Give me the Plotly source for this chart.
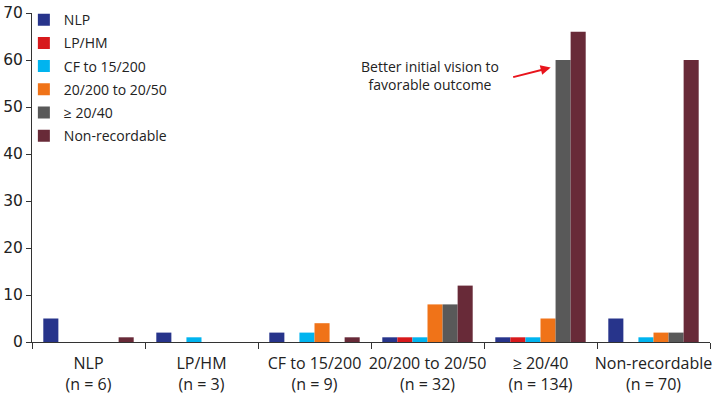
import plotly.graph_objects as go

categories = ["NLP<br>(n = 6)", "LP/HM<br>(n = 3)", "CF to 15/200<br>(n = 9)",
              "20/200 to 20/50<br>(n = 32)", "≥ 20/40<br>(n = 134)", "Non-recordable<br>(n = 70)"]

series_names = ["NLP", "LP/HM", "CF to 15/200", "20/200 to 20/50", "≥ 20/40", "Non-recordable"]

nlp_vals = [5, 2, 2, 1, 1, 5]
lphm_vals = [0, 0, 0, 1, 1, 0]
cf_vals = [0, 1, 2, 1, 1, 1]
mid_vals = [0, 0, 4, 8, 5, 2]
good_vals = [0, 0, 0, 8, 60, 2]
nonrec_vals = [1, 0, 1, 12, 66, 60]

series_values = [nlp_vals, lphm_vals, cf_vals, mid_vals, good_vals, nonrec_vals]
colors = ["#27348b", "#d7191c", "#00b4ef", "#f07318", "#595959", "#682a38"]

y_ticks = [0, 10, 20, 30, 40, 50, 60, 70]

fig = go.Figure()
for i, (name, vals, col) in enumerate(zip(series_names, series_values, colors)):
    fig.add_trace(go.Bar(x=categories, y=vals, name=name, marker_color=col,
                         marker_line_width=0, legendgroup=str(i)))

fig.update_layout(
    width=714, height=394,
    margin=dict(l=32, r=4, t=9, b=52),
    paper_bgcolor="white", plot_bgcolor="white",
    barmode="group", bargap=0.2, bargroupgap=0,
    font=dict(family="Open Sans", size=14, color="#222"),
    showlegend=True,
    legend=dict(x=-0.012, y=1.027, xanchor="left", yanchor="top",
                font=dict(family="Open Sans", size=14, color="#222"),
                tracegroupgap=2, traceorder="grouped", bgcolor="rgba(0,0,0,0)"),
    xaxis=dict(type="category", tickson="boundaries", ticks="outside", ticklen=6,
               tickcolor="#333", showline=True, linecolor="#333", linewidth=1,
               tickangle=0, automargin=False, ticklabelstandoff=7,
               tickfont=dict(family="Open Sans", size=16, color="#222"),
               showgrid=False),
    yaxis=dict(range=[0, 70], tickvals=y_ticks, ticks="outside", ticklen=5,
               tickcolor="#333", showline=True, linecolor="#333", linewidth=1,
               automargin=False,
               tickfont=dict(family="DejaVu Sans", size=15.5, color="#222"),
               showgrid=False, zeroline=False),
)

fig.add_annotation(x=3.02, y=56.8, xref="x", yref="y",
                   text="Better initial vision to<br>favorable outcome",
                   showarrow=False, font=dict(family="Open Sans", size=14, color="#222"),
                   align="center")
fig.add_annotation(x=4.09, y=58.4, xref="x", yref="y", text="",
                   showarrow=True, ax=-39, ay=10, arrowcolor="#e8141c",
                   arrowhead=2, arrowsize=1, arrowwidth=2, standoff=0)

fig.write_html("out.html", config={"displayModeBar": False},
               post_script="document.body.style.margin='0';")
